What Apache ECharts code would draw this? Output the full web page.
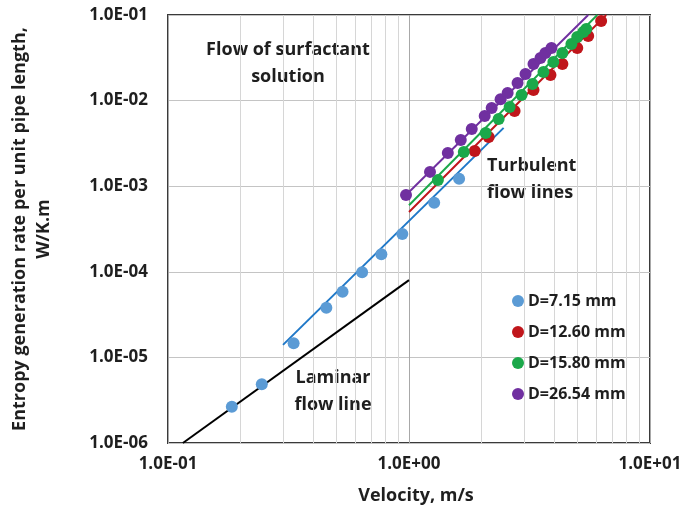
<!DOCTYPE html>
<html>
<head>
<meta charset="utf-8">
<script src="https://cdn.jsdelivr.net/npm/echarts@6/dist/echarts.min.js"></script>
<style>
  html, body { margin: 0; padding: 0; background: #fff; }
  #chart { width: 688px; height: 518px; }
</style>
</head>
<body>
<div id="chart"></div>
<script>
// tick labels (by decade)
const xTickLabels = ['1.0E-01', '1.0E+00', '1.0E+01']
const yTickLabels = ['1.0E-06', '1.0E-05', '1.0E-04', '1.0E-03', '1.0E-02', '1.0E-01']
// minor vertical grid (excel style)
const xMinor = [0.2, 0.3, 0.4, 0.5, 0.6, 0.7, 0.8, 0.9, 2, 3, 4, 5, 6, 7, 8, 9]

const seriesNames = ['D=7.15 mm', 'D=12.60 mm', 'D=15.80 mm', 'D=26.54 mm']

// measured points
const blueX = [0.184, 0.245, 0.332, 0.454, 0.530, 0.639, 0.768, 0.938, 1.272, 1.614]
const blueY = [2.65e-6, 4.85e-6, 1.46e-5, 3.81e-5, 5.85e-5, 9.86e-5, 1.60e-4, 2.77e-4, 6.41e-4, 1.22e-3]
const redX = [1.874, 2.141, 2.742, 3.285, 3.864, 4.33, 4.99, 5.54, 6.27]
const redY = [2.58e-3, 3.76e-3, 7.56e-3, 1.33e-2, 1.99e-2, 2.68e-2, 4.12e-2, 5.69e-2, 8.51e-2]
const greenX = [1.318, 1.688, 2.080, 2.355, 2.615, 2.931, 3.254, 3.614, 3.973, 4.33, 4.72, 4.99, 5.29, 5.44]
const greenY = [1.18e-3, 2.51e-3, 4.18e-3, 6.1e-3, 8.42e-3, 1.16e-2, 1.56e-2, 2.16e-2, 2.82e-2, 3.6e-2, 4.58e-2, 5.53e-2, 6.33e-2, 6.86e-2]
const purpleX = [0.972, 1.222, 1.449, 1.640, 1.821, 2.061, 2.203, 2.399, 2.566, 2.821, 3.044, 3.285, 3.512, 3.68, 3.90]
const purpleY = [7.89e-4, 1.47e-3, 2.44e-3, 3.47e-3, 4.66e-3, 6.61e-3, 8.2e-3, 1.04e-2, 1.23e-2, 1.61e-2, 2.05e-2, 2.68e-2, 3.15e-2, 3.6e-2, 4.12e-2]

// fitted lines (end points)
const laminarX = [0.1153, 1.0]
const laminarY = [1.0e-6, 8.0e-5]
const blueLineX = [0.30, 2.47]
const blueLineY = [1.4e-5, 4.8e-3]
const redLineX = [1.0, 6.58]
const redLineY = [5.0e-4, 0.1]
const greenLineX = [1.0, 6.04]
const greenLineY = [6.0e-4, 0.1]
const purpleLineX = [0.972, 5.54]
const purpleLineY = [7.9e-4, 0.1]

const FONT = '"Open Sans"'
const TXT = '#1f1f1f'
const pts = (xs, ys) => xs.map((x, i) => [x, ys[i]])
const dec = v => Math.round(Math.log10(v))

function fitLine(xs, ys, color, extra) {
  return Object.assign({
    type: 'line',
    data: pts(xs, ys),
    symbol: 'none',
    silent: true,
    lineStyle: { color: color, width: 2 },
    z: 2
  }, extra || {})
}

function dots(name, xs, ys, color) {
  return {
    name: name,
    type: 'scatter',
    data: pts(xs, ys),
    symbol: 'circle',
    symbolSize: 12,
    itemStyle: { color: color, opacity: 1 },
    z: 3
  }
}

function note(text, x, y, align) {
  return {
    type: 'text',
    silent: true,
    style: {
      text: text, x: x, y: y,
      textAlign: align, fontFamily: FONT, fontWeight: 'bold', fontSize: 18,
      lineHeight: 27, fill: TXT
    }
  }
}

const chart = echarts.init(document.getElementById('chart'))
chart.setOption({
  animation: false,
  textStyle: { fontFamily: FONT },
  grid: {
    left: 166,
    right: 38,
    top: 15,
    bottom: 75,
    show: true,
    borderColor: '#3a3a3a',
    borderWidth: 2,
    backgroundColor: 'transparent'
  },
  legend: {
    orient: 'vertical',
    left: 512,
    top: 292,
    padding: 0,
    itemWidth: 12,
    itemHeight: 12,
    itemGap: 13,
    icon: 'circle',
    data: seriesNames,
    textStyle: { fontFamily: FONT, fontWeight: 'bold', fontSize: 16, color: TXT, lineHeight: 18, padding: [0, 0, 0, -1] }
  },
  xAxis: {
    type: 'log',
    logBase: 10,
    min: 0.1,
    max: 10,
    name: 'Velocity, m/s',
    nameLocation: 'middle',
    nameGap: 44,
    nameTextStyle: { fontFamily: FONT, fontWeight: 'bold', fontSize: 18, color: TXT, padding: [0, 0, 0, 14] },
    axisLine: { show: false },
    axisTick: { show: false },
    axisLabel: {
      margin: 13,
      fontFamily: FONT,
      fontWeight: 'bold',
      fontSize: 17,
      color: TXT,
      formatter: v => xTickLabels[dec(v) + 1]
    },
    splitLine: { show: true, lineStyle: { color: '#a8a8a8', width: 1 } }
  },
  yAxis: {
    type: 'log',
    logBase: 10,
    min: 1e-6,
    max: 0.1,
    name: 'Entropy generation rate per unit pipe length,\nW/K.m',
    nameLocation: 'middle',
    nameGap: 112,
    nameTextStyle: { fontFamily: FONT, fontWeight: 'bold', fontSize: 18, color: TXT, lineHeight: 24, align: 'center' },
    axisLine: { show: false },
    axisTick: { show: false },
    axisLabel: {
      margin: 20,
      fontFamily: FONT,
      fontWeight: 'bold',
      fontSize: 17,
      color: TXT,
      formatter: v => yTickLabels[dec(v) + 6]
    },
    splitLine: { show: true, lineStyle: { color: '#c4c4c4', width: 1 } }
  },
  series: [
    fitLine(laminarX, laminarY, '#000000', {
      markLine: {
        silent: true,
        symbol: 'none',
        label: { show: false },
        lineStyle: { color: '#d6d6d6', width: 1, type: 'solid' },
        data: xMinor.map(v => ({ xAxis: v })),
        z: 1
      }
    }),
    fitLine(blueLineX, blueLineY, '#1f78c8'),
    fitLine(redLineX, redLineY, '#c0161b'),
    fitLine(greenLineX, greenLineY, '#1ba84a'),
    fitLine(purpleLineX, purpleLineY, '#7030a0'),
    dots(seriesNames[0], blueX, blueY, '#5b9bd5'),
    dots(seriesNames[1], redX, redY, '#c0161b'),
    dots(seriesNames[2], greenX, greenY, '#1ba84a'),
    dots(seriesNames[3], purpleX, purpleY, '#7030a0')
  ],
  graphic: [
    note('Flow of surfactant\nsolution', 288, 36, 'center'),
    note('Turbulent\nflow lines', 487, 152, 'left'),
    note('Laminar\nflow line', 333, 364, 'center')
  ]
})
</script>
</body>
</html>
